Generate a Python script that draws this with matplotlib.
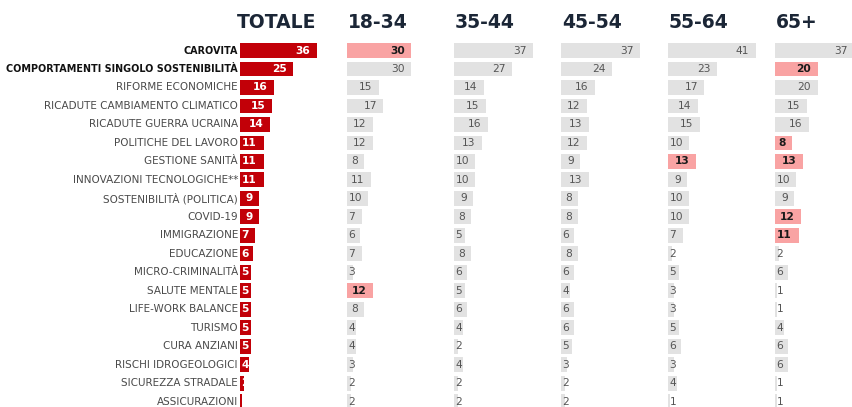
import matplotlib
matplotlib.use("Agg")
import matplotlib.pyplot as plt
from matplotlib.transforms import ScaledTranslation

categories = [
    "CAROVITA", "COMPORTAMENTI SINGOLO SOSTENIBILITÀ", "RIFORME ECONOMICHE",
    "RICADUTE CAMBIAMENTO CLIMATICO", "RICADUTE GUERRA UCRAINA", "POLITICHE DEL LAVORO",
    "GESTIONE SANITÀ", "INNOVAZIONI TECNOLOGICHE**", "SOSTENIBILITÀ (POLITICA)",
    "COVID-19", "IMMIGRAZIONE", "EDUCAZIONE", "MICRO-CRIMINALITÀ", "SALUTE MENTALE",
    "LIFE-WORK BALANCE", "TURISMO", "CURA ANZIANI", "RISCHI IDROGEOLOGICI",
    "SICUREZZA STRADALE", "ASSICURAZIONI",
]
totale = [36, 25, 16, 15, 14, 11, 11, 11, 9, 9, 7, 6, 5, 5, 5, 5, 5, 4, 2, 1]
age_groups = ["18-34", "35-44", "45-54", "55-64", "65+"]
v_18_34 = [30, 30, 15, 17, 12, 12, 8, 11, 10, 7, 6, 7, 3, 12, 8, 4, 4, 3, 2, 2]
v_35_44 = [37, 27, 14, 15, 16, 13, 10, 10, 9, 8, 5, 8, 6, 5, 6, 4, 2, 4, 2, 2]
v_45_54 = [37, 24, 16, 12, 13, 12, 9, 13, 8, 8, 6, 8, 6, 4, 6, 6, 5, 3, 2, 2]
v_55_64 = [41, 23, 17, 14, 15, 10, 13, 9, 10, 10, 7, 2, 5, 3, 3, 5, 6, 3, 4, 1]
v_65 = [37, 20, 20, 15, 16, 8, 13, 10, 9, 12, 11, 2, 6, 1, 1, 4, 6, 6, 1, 1]
age_values = [v_18_34, v_35_44, v_45_54, v_55_64, v_65]
# highlighted (category index) per age group
highlights = {"18-34": [0, 13], "55-64": [6], "65+": [1, 5, 6, 9, 10]}
bold_labels = [0, 1]

# ---- layout / style ----
W, H, DPI = 853, 407, 100
PX_PER_UNIT = 2.14
ROW0, ROW_STEP = 50.5, 18.48
COL_X0 = [240, 347, 454, 561, 668, 775]
COL_W = 105
RED = "#c20008"
GRAY = "#e2e2e2"
PINK = "#f9a3a3"
NAVY = "#1b2636"
FONT = "DejaVu Sans"

fig = plt.figure(figsize=(W / DPI, H / DPI), dpi=DPI)
fig.patch.set_facecolor("white")

y_top = -ROW0 / ROW_STEP
y_bot = (H - ROW0) / ROW_STEP
n = len(categories)
rows = list(range(n))


def make_ax(x0):
    ax = fig.add_axes([x0 / W, 0, COL_W / W, 1])
    ax.set_xlim(0, COL_W / PX_PER_UNIT)
    ax.set_ylim(y_bot, y_top)
    ax.axis("off")
    return ax


def px(ax, dx):
    return ax.transData + ScaledTranslation(dx / DPI, 0, fig.dpi_scale_trans)


def value_label(ax, i, v, color, weight, fs):
    s = str(v)
    tw = len(s) * 6.6
    pad = 6.5
    if v * PX_PER_UNIT - pad >= tw + 2:
        ax.text(v, i, s, transform=px(ax, -pad), ha="right", va="center",
                color=color, fontsize=fs, fontweight=weight, family=FONT)
    else:
        ax.text(0, i, s, transform=px(ax, 1.5), ha="left", va="center",
                color=color, fontsize=fs, fontweight=weight, family=FONT)


# TOTALE column
ax0 = make_ax(COL_X0[0])
ax0.barh(rows, totale, height=0.8, color=RED, left=0)
for i, v in enumerate(totale):
    value_label(ax0, i, v, "white", "bold", 7.7)
for i, c in enumerate(categories):
    b = i in bold_labels
    ax0.text(0, i, c, transform=px(ax0, -2), ha="right", va="center",
             fontsize=6.9 if b else 7.5, fontweight="bold" if b else "normal",
             color="#111111" if b else "#4a4a4a", family=FONT)
fig.text(316 / W, 1 - 22 / H, "TOTALE", ha="right", va="center",
         fontsize=13.5, fontweight="bold", color=NAVY, family=FONT)

# age columns
for k, (g, vals) in enumerate(zip(age_groups, age_values)):
    ax = make_ax(COL_X0[k + 1])
    hl = highlights.get(g, [])
    colors = [PINK if i in hl else GRAY for i in rows]
    ax.barh(rows, vals, height=0.8, color=colors)
    for i, v in enumerate(vals):
        if i in hl:
            value_label(ax, i, v, "#1a1a1a", "bold", 7.7)
        else:
            value_label(ax, i, v, "#555555", "normal", 7.7)
    fig.text((COL_X0[k + 1] + 1) / W, 1 - 22 / H, g, ha="left", va="center",
             fontsize=13.5, fontweight="bold", color=NAVY, family=FONT)

fig.savefig("out.png", dpi=DPI, facecolor="white")
